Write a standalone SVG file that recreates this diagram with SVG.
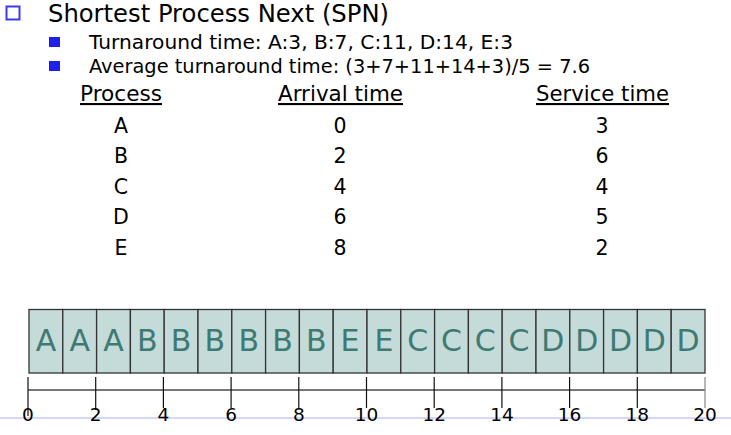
<svg xmlns="http://www.w3.org/2000/svg" width="731" height="435" viewBox="0 0 731 435">
<style>
text{font-family:"DejaVu Sans","Liberation Sans",sans-serif;fill:#000}
.t{font-size:24px}
.s{font-size:19.5px}
.h{font-size:21px;text-decoration:underline}
.r{font-size:20.5px;text-anchor:middle}
.box rect{fill:#c5dbda;stroke:#333;stroke-width:1.3}
.box text{font-size:30px;fill:#3e7a72;text-anchor:middle}
.ax{font-size:18.5px;text-anchor:middle}
.tick{stroke:#111;stroke-width:1.2}
</style>
<rect width="731" height="435" fill="#fff"/>
<g id="title">
<rect x="6.5" y="6.5" width="13" height="13" fill="none" stroke="#3a3af5" stroke-width="2"/>
<text class="t" x="48" y="22" textLength="341" lengthAdjust="spacingAndGlyphs">Shortest Process Next (SPN)</text>
</g>
<g id="bullets">
<rect x="49" y="37" width="11" height="10" fill="#2020ee"/>
<text class="s" x="89" y="49" textLength="424" lengthAdjust="spacingAndGlyphs">Turnaround time: A:3, B:7, C:11, D:14, E:3</text>
<rect x="49" y="61" width="11" height="10" fill="#2020ee"/>
<text class="s" x="89" y="73" textLength="501" lengthAdjust="spacingAndGlyphs">Average turnaround time: (3+7+11+14+3)/5 = 7.6</text>
</g>
<g id="table">
<text class="h" x="80" y="101" textLength="82" lengthAdjust="spacingAndGlyphs">Process</text>
<text class="h" x="278" y="101" textLength="125" lengthAdjust="spacingAndGlyphs">Arrival time</text>
<text class="h" x="536" y="101" textLength="133" lengthAdjust="spacingAndGlyphs">Service time</text>
<text class="r" x="121" y="133">A</text><text class="r" x="340" y="133">0</text><text class="r" x="602" y="133">3</text>
<text class="r" x="121" y="163">B</text><text class="r" x="340" y="163">2</text><text class="r" x="602" y="163">6</text>
<text class="r" x="121" y="194">C</text><text class="r" x="340" y="194">4</text><text class="r" x="602" y="194">4</text>
<text class="r" x="121" y="224">D</text><text class="r" x="340" y="224">6</text><text class="r" x="602" y="224">5</text>
<text class="r" x="121" y="255">E</text><text class="r" x="340" y="255">8</text><text class="r" x="602" y="255">2</text>
</g>
<g id="gantt" class="box">
<rect x="29" y="309.5" width="33.8" height="63.5"/><text x="45.9" y="351">A</text>
<rect x="62.8" y="309.5" width="33.8" height="63.5"/><text x="79.7" y="351">A</text>
<rect x="96.6" y="309.5" width="33.8" height="63.5"/><text x="113.5" y="351">A</text>
<rect x="130.4" y="309.5" width="33.8" height="63.5"/><text x="147.3" y="351">B</text>
<rect x="164.2" y="309.5" width="33.8" height="63.5"/><text x="181.1" y="351">B</text>
<rect x="198" y="309.5" width="33.8" height="63.5"/><text x="214.9" y="351">B</text>
<rect x="231.8" y="309.5" width="33.8" height="63.5"/><text x="248.7" y="351">B</text>
<rect x="265.6" y="309.5" width="33.8" height="63.5"/><text x="282.5" y="351">B</text>
<rect x="299.4" y="309.5" width="33.8" height="63.5"/><text x="316.3" y="351">B</text>
<rect x="333.2" y="309.5" width="33.8" height="63.5"/><text x="350.1" y="351">E</text>
<rect x="367" y="309.5" width="33.8" height="63.5"/><text x="383.9" y="351">E</text>
<rect x="400.8" y="309.5" width="33.8" height="63.5"/><text x="417.7" y="351">C</text>
<rect x="434.6" y="309.5" width="33.8" height="63.5"/><text x="451.5" y="351">C</text>
<rect x="468.4" y="309.5" width="33.8" height="63.5"/><text x="485.3" y="351">C</text>
<rect x="502.2" y="309.5" width="33.8" height="63.5"/><text x="519.1" y="351">C</text>
<rect x="536" y="309.5" width="33.8" height="63.5"/><text x="552.9" y="351">D</text>
<rect x="569.8" y="309.5" width="33.8" height="63.5"/><text x="586.7" y="351">D</text>
<rect x="603.6" y="309.5" width="33.8" height="63.5"/><text x="620.5" y="351">D</text>
<rect x="637.4" y="309.5" width="33.8" height="63.5"/><text x="654.3" y="351">D</text>
<rect x="671.2" y="309.5" width="33.8" height="63.5"/><text x="688.1" y="351">D</text>
</g>
<g id="axis">
<line x1="0" y1="418" x2="731" y2="418" stroke="#aab0f5" stroke-width="1"/>
<line x1="28" y1="390" x2="705" y2="390" stroke="#777" stroke-width="2"/>
<g class="tick">
<line x1="28" y1="377" x2="28" y2="416"/>
<line x1="95.7" y1="377" x2="95.7" y2="410"/>
<line x1="163.4" y1="377" x2="163.4" y2="408"/>
<line x1="231.1" y1="377" x2="231.1" y2="408"/>
<line x1="298.8" y1="377" x2="298.8" y2="408"/>
<line x1="366.5" y1="377" x2="366.5" y2="408"/>
<line x1="434.2" y1="377" x2="434.2" y2="408"/>
<line x1="501.9" y1="377" x2="501.9" y2="408"/>
<line x1="569.6" y1="377" x2="569.6" y2="408"/>
<line x1="637.3" y1="377" x2="637.3" y2="408"/>
<line x1="705" y1="377" x2="705" y2="408" stroke="#888"/>
</g>
<text class="ax" x="28" y="421">0</text>
<text class="ax" x="95.7" y="421">2</text>
<text class="ax" x="163.4" y="421">4</text>
<text class="ax" x="231.1" y="421">6</text>
<text class="ax" x="298.8" y="421">8</text>
<text class="ax" x="366.5" y="421">10</text>
<text class="ax" x="434.2" y="421">12</text>
<text class="ax" x="501.9" y="421">14</text>
<text class="ax" x="569.6" y="421">16</text>
<text class="ax" x="637.3" y="421">18</text>
<text class="ax" x="705" y="421">20</text>
</g>
</svg>
